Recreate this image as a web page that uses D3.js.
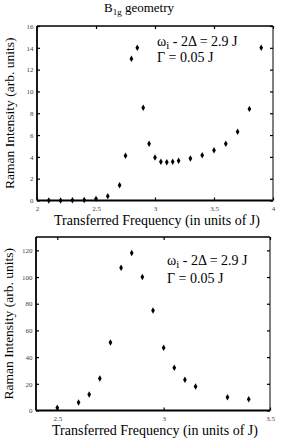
<!DOCTYPE html>
<html><head><meta charset="utf-8">
<script src="https://cdn.jsdelivr.net/npm/d3@7"></script>
<style>body{margin:0;background:#fff}svg{display:block}</style>
</head><body>
<svg id="c" width="284" height="438"></svg>
<script>
const topX = [2.1,2.2,2.3,2.4,2.5,2.6,2.7,2.75,2.8,2.85,2.9,2.95,3.0,3.05,3.1,3.15,3.2,3.3,3.4,3.5,3.6,3.7,3.8,3.9];
const topY = [0.0,0.0,0.02,0.05,0.15,0.4,1.4,4.1,13.0,14.0,8.5,5.2,3.95,3.55,3.5,3.55,3.65,3.85,4.15,4.6,5.2,6.3,8.4,14.0];
const botX = [2.5,2.6,2.65,2.7,2.75,2.8,2.85,2.9,2.95,3.0,3.05,3.1,3.15,3.3,3.4];
const botY = [2,6,12,24,51,107,118,100,75,47,32,23,18,10,8.5];
const topXTicks = [2,2.5,3,3.5,4];
const topYTicks = [0,2,4,6,8,10,12,14,16];
const botXTicks = [2.5,3,3.5];
const botYTicks = [0,20,40,60,80,100,120];
const title = "geometry";
const xLabel = "Transferred Frequency (in units of J)";
const yLabel = "Raman Intensity (arb. units)";
const ann1 = " - 2\u0394 = 2.9 J";
const ann2 = "\u0393 = 0.05 J";

const svg = d3.select("#c");
const serif = "'Liberation Serif','Times New Roman',serif";

function panel(cfg){
  const {xs, ys, xDom, yDom, xTicks, yTicks, L, R, T, B, annX, annY1, annY2, xlabY} = cfg;
  const x = d3.scaleLinear().domain(xDom).range([L,R]);
  const y = d3.scaleLinear().domain(yDom).range([B,T]);
  const g = svg.append("g");
  const fmt = d => String(d);
  const ax = [
    {a:d3.axisBottom(x).tickValues(xTicks).tickSize(-3).tickFormat(fmt), t:`translate(0,${B})`},
    {a:d3.axisTop(x).tickValues(xTicks).tickSize(-3).tickFormat(""), t:`translate(0,${T})`},
    {a:d3.axisLeft(y).tickValues(yTicks).tickSize(-3).tickFormat(fmt), t:`translate(${L},0)`},
    {a:d3.axisRight(y).tickValues(yTicks).tickSize(-3).tickFormat(""), t:`translate(${R},0)`}
  ];
  ax.forEach((o,i)=>{
    const ag = g.append("g").attr("transform",o.t).call(o.a);
    ag.select(".domain").remove();
    ag.selectAll(".tick line").attr("stroke","#000").attr("stroke-width",1.2);
    ag.selectAll(".tick text").attr("font-family",serif).attr("font-size",7).attr("fill","#444");
    if(i===0) ag.selectAll(".tick text").attr("dy","0.9em").attr("y",4);
    if(i===2) ag.selectAll(".tick text").attr("x",-3.5);
  });
  g.append("line").attr("x1",L).attr("x2",R).attr("y1",B).attr("y2",B).attr("stroke","#000").attr("stroke-width",1.8);
  g.append("line").attr("x1",L).attr("x2",L).attr("y1",T).attr("y2",B).attr("stroke","#000").attr("stroke-width",1.8);
  g.append("line").attr("x1",L).attr("x2",R).attr("y1",T).attr("y2",T).attr("stroke","#000").attr("stroke-width",1.5);
  g.append("line").attr("x1",R).attr("x2",R).attr("y1",T).attr("y2",B).attr("stroke","#000").attr("stroke-width",1);
  g.selectAll("path.pt").data(xs.map((v,i)=>[v,ys[i]])).join("path")
    .attr("class","pt")
    .attr("d", d3.symbol(d3.symbolDiamond, 12))
    .attr("transform", d=>`translate(${x(d[0])},${y(d[1])})`)
    .attr("fill","#000");
  g.append("text").attr("transform",`translate(${L-23},${(T+B)/2}) rotate(-90)`)
    .attr("text-anchor","middle").attr("font-family",serif).attr("font-size",13.5).text(yLabel);
  g.append("text").attr("x",(L+R)/2+2).attr("y",xlabY).attr("text-anchor","middle")
    .attr("font-family",serif).attr("font-size",14).text(xLabel);
  const t1 = g.append("text").attr("x",annX).attr("y",annY1).attr("font-family",serif).attr("font-size",14);
  t1.append("tspan").text("\u03c9");
  t1.append("tspan").attr("dy",3).attr("font-size",11).text("i");
  t1.append("tspan").attr("dy",-3).text(ann1);
  g.append("text").attr("x",annX).attr("y",annY2).attr("font-family",serif).attr("font-size",14).text(ann2);
}

const tt = svg.append("text").attr("x",139).attr("y",12).attr("text-anchor","middle")
  .attr("font-family",serif).attr("font-size",13);
tt.append("tspan").text("B");
tt.append("tspan").attr("dy",3).attr("font-size",9).text("1g");
tt.append("tspan").attr("dy",-3).text(" " + title);

panel({xs:topX, ys:topY, xDom:[2,4], yDom:[0,16], xTicks:topXTicks, yTicks:topYTicks,
  L:37, R:273, T:26, B:200.5, annX:157, annY1:46, annY2:62, xlabY:225});
panel({xs:botX, ys:botY, xDom:[2.4,3.5], yDom:[0,130], xTicks:botXTicks, yTicks:botYTicks,
  L:36, R:270, T:237, B:410.5, annX:167, annY1:265, annY2:283, xlabY:435});
</script>
</body></html>
